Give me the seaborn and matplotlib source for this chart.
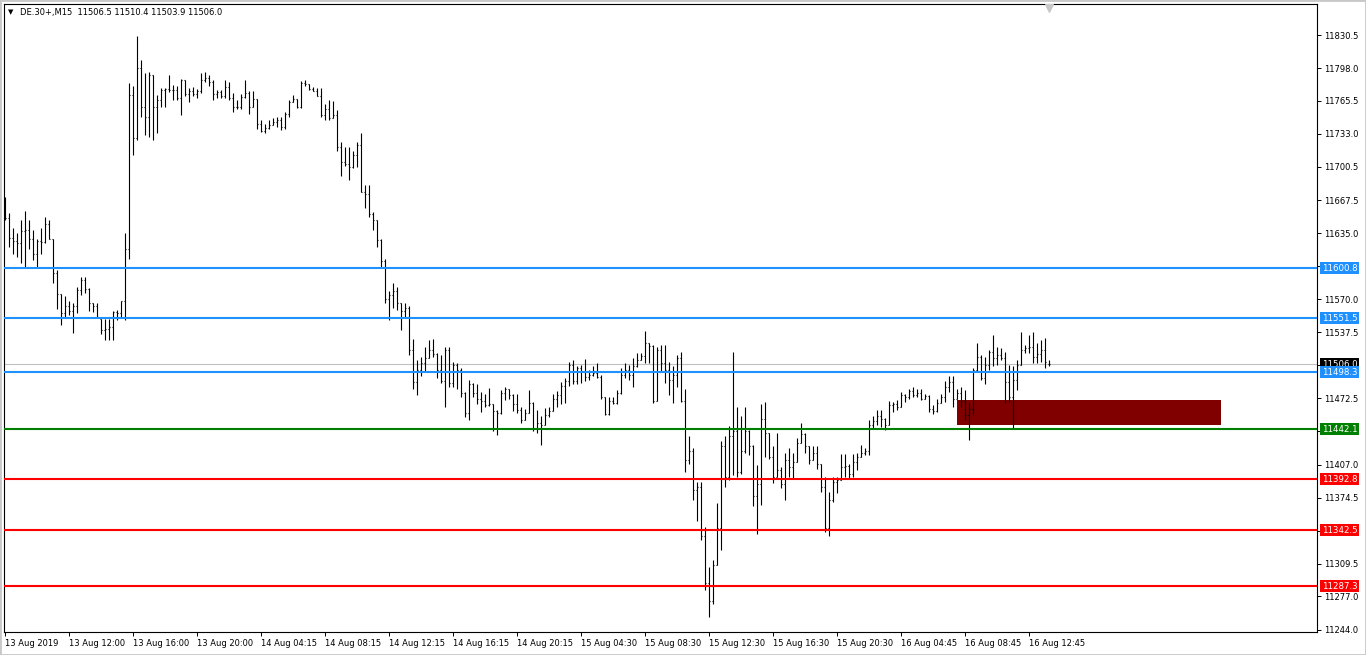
import numpy as np
import pandas as pd
import seaborn as sns
import matplotlib
matplotlib.use("Agg")
from matplotlib import pyplot as plt
from matplotlib import transforms
from matplotlib.patches import Rectangle

# DE.30+ M15 bars (bar 0 = 13 Aug 2019 08:00)
opens = [11665, 11650, 11630, 11627, 11625, 11637, 11638, 11629, 11615, 11627,
         11626, 11644, 11629, 11596, 11575, 11556, 11563, 11558, 11563, 11579,
         11589, 11580, 11566, 11563, 11551, 11540, 11541, 11543, 11557, 11556,
         11568, 11620, 11771, 11729, 11798, 11760, 11750, 11791, 11760, 11766,
         11776, 11777, 11776, 11776, 11768, 11786, 11772, 11775, 11772, 11775,
         11786, 11788, 11784, 11772, 11774, 11770, 11779, 11768, 11760, 11760,
         11769, 11773, 11760, 11767, 11743, 11736, 11739, 11742, 11745, 11747,
         11740, 11753, 11764, 11767, 11760, 11783, 11782, 11777, 11775, 11770,
         11752, 11758, 11749, 11752, 11720, 11705, 11703, 11700, 11712, 11722,
         11676, 11674, 11654, 11648, 11628, 11608, 11570, 11574, 11578, 11566,
         11558, 11561, 11520, 11488, 11500, 11507, 11512, 11520, 11516, 11500,
         11489, 11520, 11487, 11505, 11500, 11478, 11458, 11486, 11478, 11472,
         11470, 11466, 11467, 11460, 11458, 11478, 11482, 11476, 11467, 11461,
         11451, 11458, 11468, 11442, 11448, 11446, 11456, 11460, 11472, 11476,
         11485, 11489, 11505, 11489, 11502, 11498, 11493, 11495, 11497, 11493,
         11474, 11457, 11470, 11468, 11478, 11495, 11500, 11495, 11504, 11510,
         11514, 11527, 11524, 11470, 11520, 11507, 11500, 11490, 11495, 11512,
         11470, 11412, 11420, 11382, 11385, 11337, 11290, 11273, 11308, 11345,
         11425, 11395, 11435, 11440, 11400, 11420, 11440, 11425, 11376, 11388,
         11452, 11438, 11415, 11395, 11402, 11388, 11412, 11405, 11410, 11428,
         11437, 11425, 11412, 11418, 11408, 11385, 11345, 11372, 11390, 11392,
         11405, 11406, 11398, 11410, 11415, 11418, 11420, 11446, 11450, 11455,
         11452, 11446, 11466, 11467, 11464, 11476, 11474, 11480, 11476, 11478,
         11472, 11475, 11462, 11460, 11468, 11474, 11484, 11488, 11472, 11478,
         11470, 11456, 11462, 11500, 11513, 11492, 11505, 11518, 11512, 11515,
         11512, 11488, 11474, 11490, 11505, 11520, 11522, 11523, 11513, 11516,
         11520, 11506.5]
highs = [11671, 11655, 11640, 11635, 11648, 11657, 11648, 11638, 11629, 11640,
         11651, 11648, 11629, 11599, 11575, 11573, 11568, 11566, 11582, 11592,
         11592, 11581, 11566, 11566, 11551, 11551, 11551, 11558, 11559, 11568,
         11635, 11783, 11780, 11830, 11806, 11793, 11794, 11791, 11771, 11778,
         11778, 11791, 11781, 11780, 11787, 11786, 11778, 11779, 11777, 11793,
         11794, 11791, 11786, 11776, 11776, 11786, 11784, 11773, 11766, 11772,
         11786, 11775, 11775, 11767, 11747, 11743, 11747, 11749, 11750, 11750,
         11755, 11766, 11771, 11767, 11785, 11786, 11782, 11779, 11778, 11778,
         11763, 11766, 11765, 11757, 11725, 11720, 11720, 11716, 11725, 11734,
         11683, 11683, 11656, 11648, 11629, 11610, 11578, 11586, 11582, 11566,
         11566, 11563, 11531, 11510, 11513, 11523, 11530, 11531, 11517, 11515,
         11523, 11523, 11508, 11507, 11502, 11479, 11490, 11487, 11486, 11479,
         11477, 11483, 11467, 11461, 11481, 11484, 11482, 11477, 11477, 11464,
         11462, 11481, 11469, 11461, 11455, 11463, 11464, 11477, 11480, 11488,
         11492, 11508, 11510, 11504, 11505, 11511, 11500, 11504, 11507, 11495,
         11474, 11474, 11474, 11481, 11502, 11507, 11505, 11512, 11517, 11517,
         11539, 11527, 11525, 11523, 11525, 11525, 11508, 11504, 11515, 11518,
         11482, 11435, 11423, 11390, 11390, 11346, 11306, 11313, 11369, 11430,
         11435, 11445, 11518, 11464, 11455, 11464, 11441, 11426, 11407, 11467,
         11469, 11438, 11425, 11438, 11405, 11418, 11423, 11418, 11433, 11448,
         11438, 11425, 11425, 11425, 11408, 11395, 11380, 11395, 11395, 11417,
         11417, 11408, 11417, 11418, 11426, 11423, 11451, 11455, 11461, 11461,
         11453, 11470, 11469, 11471, 11479, 11477, 11482, 11484, 11482, 11482,
         11477, 11476, 11466, 11472, 11477, 11489, 11494, 11494, 11482, 11484,
         11481, 11469, 11502, 11527, 11515, 11513, 11520, 11535, 11523, 11522,
         11518, 11505, 11504, 11510, 11538, 11525, 11535, 11538, 11527, 11530,
         11532, 11510.4]
lows = [11648, 11622, 11615, 11612, 11606, 11602, 11620, 11609, 11602, 11615,
        11625, 11629, 11586, 11560, 11545, 11553, 11555, 11537, 11556, 11574,
        11576, 11558, 11557, 11553, 11536, 11530, 11530, 11530, 11550, 11553,
        11550, 11610, 11712, 11727, 11750, 11732, 11730, 11727, 11734, 11760,
        11760, 11774, 11766, 11766, 11752, 11770, 11764, 11770, 11768, 11773,
        11784, 11780, 11766, 11768, 11768, 11768, 11766, 11755, 11758, 11758,
        11768, 11753, 11760, 11738, 11735, 11734, 11738, 11742, 11740, 11737,
        11738, 11750, 11764, 11759, 11759, 11780, 11776, 11775, 11770, 11750,
        11747, 11747, 11749, 11716, 11692, 11701, 11688, 11699, 11700, 11676,
        11660, 11651, 11638, 11622, 11602, 11566, 11550, 11561, 11559, 11540,
        11553, 11515, 11482, 11476, 11494, 11499, 11512, 11513, 11492, 11487,
        11464, 11484, 11484, 11482, 11474, 11454, 11451, 11474, 11467, 11459,
        11464, 11465, 11440, 11436, 11457, 11471, 11472, 11460, 11458, 11448,
        11451, 11458, 11440, 11438, 11426, 11446, 11454, 11460, 11464, 11467,
        11468, 11485, 11486, 11486, 11487, 11489, 11490, 11494, 11492, 11472,
        11456, 11456, 11467, 11467, 11477, 11492, 11490, 11484, 11503, 11510,
        11507, 11507, 11468, 11470, 11499, 11487, 11476, 11468, 11484, 11469,
        11400, 11408, 11372, 11351, 11333, 11283, 11257, 11270, 11308, 11323,
        11385, 11392, 11397, 11395, 11398, 11418, 11416, 11366, 11339, 11367,
        11415, 11413, 11389, 11395, 11384, 11372, 11395, 11393, 11410, 11428,
        11418, 11408, 11412, 11403, 11380, 11341, 11337, 11370, 11379, 11392,
        11395, 11394, 11395, 11402, 11415, 11416, 11416, 11443, 11446, 11444,
        11441, 11446, 11459, 11461, 11464, 11469, 11472, 11474, 11474, 11471,
        11472, 11459, 11457, 11459, 11468, 11469, 11479, 11464, 11472, 11464,
        11451, 11431, 11456, 11499, 11490, 11486, 11500, 11504, 11505, 11510,
        11468, 11469, 11443, 11481, 11505, 11517, 11517, 11507, 11507, 11508,
        11502, 11503.9]
closes = [11650, 11630, 11627, 11625, 11637, 11638, 11629, 11615, 11627, 11626,
          11644, 11629, 11596, 11575, 11556, 11563, 11558, 11563, 11579, 11589,
          11580, 11566, 11563, 11553, 11540, 11541, 11543, 11557, 11556, 11568,
          11620, 11771, 11729, 11798, 11760, 11750, 11791, 11760, 11766, 11776,
          11777, 11776, 11776, 11768, 11786, 11772, 11775, 11772, 11775, 11786,
          11788, 11784, 11772, 11774, 11770, 11779, 11768, 11760, 11760, 11769,
          11773, 11760, 11767, 11743, 11736, 11739, 11742, 11745, 11747, 11740,
          11753, 11764, 11767, 11760, 11783, 11782, 11777, 11775, 11770, 11752,
          11758, 11749, 11752, 11720, 11705, 11703, 11700, 11712, 11722, 11676,
          11674, 11654, 11648, 11628, 11608, 11570, 11574, 11578, 11566, 11558,
          11561, 11520, 11488, 11500, 11507, 11512, 11520, 11516, 11500, 11489,
          11520, 11487, 11505, 11500, 11478, 11458, 11486, 11478, 11472, 11470,
          11466, 11467, 11460, 11458, 11478, 11482, 11476, 11467, 11461, 11451,
          11458, 11468, 11442, 11448, 11446, 11456, 11460, 11472, 11476, 11485,
          11489, 11505, 11489, 11502, 11498, 11493, 11495, 11497, 11493, 11474,
          11457, 11470, 11468, 11478, 11495, 11500, 11495, 11504, 11510, 11514,
          11527, 11524, 11470, 11520, 11507, 11500, 11490, 11495, 11512, 11470,
          11412, 11420, 11382, 11385, 11337, 11290, 11273, 11308, 11345, 11425,
          11395, 11435, 11440, 11400, 11420, 11440, 11425, 11376, 11388, 11452,
          11438, 11415, 11395, 11402, 11388, 11412, 11405, 11410, 11428, 11437,
          11425, 11412, 11418, 11408, 11385, 11345, 11372, 11390, 11392, 11405,
          11406, 11398, 11410, 11415, 11418, 11420, 11446, 11450, 11455, 11452,
          11446, 11466, 11467, 11464, 11476, 11474, 11480, 11476, 11478, 11472,
          11475, 11462, 11460, 11468, 11474, 11484, 11488, 11472, 11478, 11470,
          11456, 11462, 11500, 11513, 11492, 11505, 11518, 11512, 11515, 11512,
          11488, 11474, 11490, 11505, 11520, 11522, 11523, 11513, 11516, 11520,
          11508, 11506.0]

date_ticks = [0, 16, 32, 48, 64, 80, 96, 112, 128, 144, 160, 176, 192, 208, 224, 240, 256]
date_labels = ["13 Aug 2019", "13 Aug 12:00", "13 Aug 16:00", "13 Aug 20:00",
               "14 Aug 04:15", "14 Aug 08:15", "14 Aug 12:15", "14 Aug 16:15",
               "14 Aug 20:15", "15 Aug 04:30", "15 Aug 08:30", "15 Aug 12:30",
               "15 Aug 16:30", "15 Aug 20:30", "16 Aug 04:45", "16 Aug 08:45",
               "16 Aug 12:45"]
# scale ticks; the ones sitting under a level label keep only their tick mark
price_ticks = [11830.5, 11798.0, 11765.5, 11733.0, 11700.5, 11667.5, 11635.0,
               11602.5, 11570.0, 11537.5, 11505.0, 11472.5, 11440.0, 11407.0,
               11374.5, 11342.0, 11309.5, 11277.0, 11244.0]
covered_ticks = [11602.5, 11505.0, 11440.0, 11342.0]

levels = [11600.8, 11551.5, 11498.3, 11442.1, 11392.8, 11342.5, 11287.3]
level_colors = ["#1e90ff", "#1e90ff", "#1e90ff", "#008000", "#ff0000", "#ff0000", "#ff0000"]
bid = 11506.0
zone_bars = (238, 304)
zone_prices = (11446.0, 11471.0)
header = "DE.30+,M15  11506.5 11510.4 11503.9 11506.0"

df = pd.DataFrame({"open": opens, "high": highs, "low": lows, "close": closes})
df["bar"] = np.arange(len(df))

sns.set_theme(style="white")
plt.rcParams["font.family"] = ["DejaVu Sans"]

fig = plt.figure(figsize=(13.66, 6.55), dpi=100)
ax = fig.add_axes([4 / 1366, 23 / 655, 1313 / 1366, 628 / 655])

# zone in background
ax.add_patch(Rectangle((zone_bars[0], zone_prices[0]), zone_bars[1] - zone_bars[0],
                       zone_prices[1] - zone_prices[0], fc="#800000", ec="none", zorder=0.5))

ax.axhline(bid, color="#c0c0c0", lw=0.8, zorder=1)

# ohlc bars
bar_kw = dict(color="black", lw=0.8, zorder=2)
ax.vlines(df["bar"], df["low"], df["high"], **bar_kw)
ax.hlines(df["open"], df["bar"] - 0.3, df["bar"], **bar_kw)
ax.hlines(df["close"], df["bar"], df["bar"] + 0.3, **bar_kw)

for lvl, c in zip(levels, level_colors):
    ax.axhline(lvl, color=c, lw=1.5, zorder=4)

ax.set_xlim(-0.25, 328)
ax.set_ylim(11242.0, 11861.1)

ax.set_xticks(date_ticks)
ax.set_xticklabels(date_labels, ha="left")
ax.set_yticks(price_ticks)
ax.set_yticklabels(["" if p in covered_ticks else f"{p:.1f}" for p in price_ticks])
ax.yaxis.tick_right()
ax.tick_params(axis="x", bottom=True, length=3, width=0.7, pad=2, labelsize=6.0,
               colors="black", direction="out")
ax.tick_params(axis="y", right=True, left=False, labelright=True, labelleft=False,
               length=3, width=0.7, pad=2, labelsize=6.0, colors="black", direction="out")
for s in ax.spines.values():
    s.set_color("black")
    s.set_linewidth(0.8)
    s.set_visible(True)

# price labels on the right scale
trans = transforms.blended_transform_factory(ax.transAxes, ax.transData)
ax.text(1.0038, bid, f"{bid:.1f}", transform=trans, ha="left", va="center", fontsize=6.2,
        color="white", bbox=dict(boxstyle="square,pad=0.2", fc="black", ec="none"),
        clip_on=False, zorder=5)
for lvl, c in zip(levels, level_colors):
    ax.text(1.0038, lvl, f"{lvl:.1f}", transform=trans, ha="left", va="center", fontsize=6.2,
            color="white", bbox=dict(boxstyle="square,pad=0.2", fc=c, ec="none"),
            clip_on=False, zorder=6)

# chart shift marker
ax.scatter([len(df) - 1], [0.993], marker="v", s=30, color="#c8c8c8",
           transform=transforms.blended_transform_factory(ax.transData, ax.transAxes),
           clip_on=False, zorder=5)

fig.text(8 / 1366, 1 - 12 / 655, "\u25bc", fontsize=5, va="center", color="black")
fig.text(20 / 1366, 1 - 12 / 655, header, fontsize=6.0, va="center", color="black")

fig.add_artist(Rectangle((0, 0), 1, 1, transform=fig.transFigure, fill=False,
                         ec="#c8c8c8", lw=2))

fig.savefig("out.png", dpi=100)
